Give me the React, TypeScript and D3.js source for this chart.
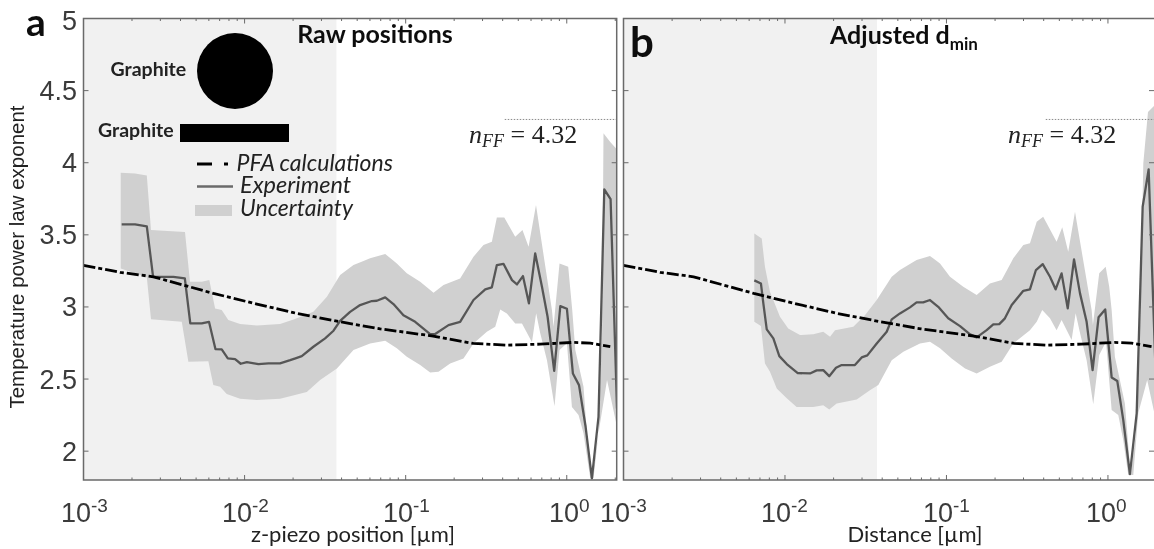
import React from "react";
import * as d3 from "d3";

// All x arrays hold log10(position in µm); y arrays hold the power-law exponent.
const yTicks = [2, 2.5, 3, 3.5, 4, 4.5, 5];
const xDecades = [-3, -2, -1, 0];
const nearFieldShadeEnd = -1.43;
const nFF = 4.3;
const nFFStart = -0.385;

const pfaX = [-3, -2.773, -2.566, -2.194, -1.924, -1.676, -1.407, -1.158, -0.829, -0.581, -0.372, -0.165, 0.04, 0.146, 0.27];
const pfaY = [3.288, 3.24, 3.209, 3.094, 3.02, 2.955, 2.897, 2.848, 2.798, 2.747, 2.735, 2.742, 2.754, 2.749, 2.724];

const rawExpX = [-2.763, -2.68, -2.607, -2.568, -2.442, -2.371, -2.337, -2.266, -2.221, -2.181, -2.142, -2.104, -2.059, -2.024, -1.986, -1.914, -1.852, -1.78, -1.717, -1.645, -1.573, -1.5, -1.448, -1.407, -1.345, -1.283, -1.21, -1.179, -1.127, -1.076, -1.014, -0.941, -0.848, -0.817, -0.734, -0.662, -0.579, -0.506, -0.465, -0.434, -0.393, -0.34, -0.309, -0.272, -0.235, -0.196, -0.154, -0.119, -0.078, -0.04, 0.001, 0.038, 0.076, 0.117, 0.156, 0.197, 0.233, 0.272, 0.312];
const rawExpY = [3.573, 3.573, 3.559, 3.209, 3.209, 3.198, 2.886, 2.886, 2.897, 2.708, 2.706, 2.643, 2.638, 2.606, 2.617, 2.604, 2.609, 2.609, 2.631, 2.659, 2.724, 2.782, 2.835, 2.904, 2.966, 3.013, 3.041, 3.043, 3.066, 3.02, 2.943, 2.897, 2.812, 2.812, 2.874, 2.897, 3.048, 3.122, 3.136, 3.29, 3.299, 3.186, 3.156, 3.214, 3.025, 3.371, 3.14, 2.932, 2.557, 3.006, 2.987, 2.539, 2.458, 2.169, 1.811, 2.238, 3.815, 3.748, 2.296];

const rawUpX = [-2.769, -2.68, -2.607, -2.581, -2.504, -2.37, -2.339, -2.266, -2.219, -2.183, -2.142, -2.101, -2.028, -1.924, -1.78, -1.676, -1.573, -1.489, -1.407, -1.324, -1.221, -1.127, -1.055, -0.993, -0.91, -0.827, -0.765, -0.662, -0.579, -0.517, -0.465, -0.434, -0.388, -0.32, -0.275, -0.237, -0.191, -0.092, -0.082, -0.045, 0.009, 0.034, 0.053, 0.104, 0.125, 0.156, 0.197, 0.219, 0.228, 0.27, 0.32];
const rawUpY = [3.93, 3.926, 3.912, 3.533, 3.528, 3.519, 3.174, 3.174, 3.186, 2.99, 2.978, 2.909, 2.881, 2.872, 2.881, 2.921, 2.966, 3.07, 3.221, 3.29, 3.337, 3.367, 3.302, 3.233, 3.174, 3.098, 3.152, 3.198, 3.348, 3.429, 3.452, 3.621, 3.621, 3.487, 3.533, 3.417, 3.706, 2.978, 2.862, 3.302, 3.278, 2.978, 2.701, 2.446, 2.125, 1.799, 2.125, 2.819, 4.204, 4.143, 4.081];
const rawLowX = [-2.769, -2.607, -2.581, -2.39, -2.349, -2.225, -2.194, -2.152, -2.111, -2.028, -1.924, -1.78, -1.614, -1.531, -1.427, -1.324, -1.221, -1.127, -1.055, -0.993, -0.91, -0.848, -0.796, -0.724, -0.641, -0.579, -0.496, -0.444, -0.413, -0.372, -0.32, -0.278, -0.216, -0.19, -0.165, -0.123, -0.076, -0.045, 0.001, 0.032, 0.073, 0.104, 0.146, 0.166, 0.197, 0.25, 0.32];
const rawLowY = [3.267, 3.205, 2.914, 2.897, 2.62, 2.624, 2.458, 2.446, 2.396, 2.363, 2.354, 2.363, 2.411, 2.493, 2.574, 2.701, 2.747, 2.765, 2.713, 2.654, 2.597, 2.546, 2.55, 2.608, 2.643, 2.747, 2.828, 2.862, 2.983, 2.955, 2.886, 2.886, 2.756, 2.957, 2.819, 2.631, 2.312, 2.701, 2.749, 2.307, 2.25, 2.125, 1.813, 1.813, 2.125, 2.493, 2.125];

const adjExpX = [-2.19, -2.149, -2.134, -2.113, -2.072, -2.035, -1.989, -1.921, -1.845, -1.804, -1.763, -1.726, -1.684, -1.649, -1.567, -1.525, -1.49, -1.432, -1.37, -1.339, -1.288, -1.226, -1.185, -1.144, -1.102, -1.051, -0.989, -0.916, -0.854, -0.813, -0.751, -0.71, -0.673, -0.638, -0.596, -0.524, -0.483, -0.446, -0.404, -0.359, -0.324, -0.287, -0.249, -0.21, -0.173, -0.132, -0.095, -0.058, -0.017, 0.023, 0.058, 0.095, 0.136, 0.178, 0.215, 0.252, 0.303];
const adjExpY = [3.184, 3.163, 3.025, 2.844, 2.782, 2.659, 2.604, 2.541, 2.539, 2.56, 2.562, 2.52, 2.578, 2.597, 2.597, 2.65, 2.664, 2.747, 2.828, 2.914, 2.955, 2.997, 3.032, 3.032, 3.048, 3.001, 2.921, 2.867, 2.81, 2.789, 2.839, 2.879, 2.881, 2.921, 3.013, 3.112, 3.122, 3.256, 3.297, 3.209, 3.122, 3.233, 2.99, 3.33, 3.094, 2.897, 2.562, 2.928, 2.983, 2.511, 2.486, 2.215, 1.841, 2.262, 3.695, 3.954, 2.298];

const adjUpX = [-2.19, -2.144, -2.124, -2.093, -2.031, -1.98, -1.907, -1.825, -1.763, -1.721, -1.69, -1.577, -1.505, -1.432, -1.339, -1.288, -1.185, -1.102, -1.04, -0.978, -0.896, -0.813, -0.731, -0.658, -0.586, -0.524, -0.483, -0.441, -0.401, -0.318, -0.283, -0.246, -0.204, -0.101, -0.093, -0.054, -0.014, 0.008, 0.023, 0.043, 0.105, 0.141, 0.173, 0.198, 0.219, 0.248, 0.285, 0.31];
const adjUpY = [3.51, 3.475, 3.278, 3.105, 2.932, 2.851, 2.805, 2.81, 2.828, 2.793, 2.839, 2.862, 2.943, 3.048, 3.209, 3.256, 3.325, 3.353, 3.302, 3.209, 3.14, 3.082, 3.163, 3.186, 3.337, 3.429, 3.441, 3.591, 3.625, 3.452, 3.552, 3.383, 3.66, 2.978, 2.874, 3.233, 3.278, 3.14, 2.978, 2.654, 2.331, 1.827, 2.125, 2.819, 3.996, 4.351, 4.393, 4.365];
const adjLowX = [-2.19, -2.149, -2.124, -2.093, -2.051, -1.989, -1.928, -1.825, -1.763, -1.726, -1.68, -1.556, -1.474, -1.422, -1.339, -1.267, -1.164, -1.102, -1.04, -0.968, -0.885, -0.813, -0.731, -0.658, -0.586, -0.483, -0.441, -0.407, -0.359, -0.318, -0.287, -0.225, -0.2, -0.173, -0.132, -0.091, -0.054, -0.012, 0.023, 0.064, 0.095, 0.126, 0.157, 0.188, 0.243, 0.31];
const adjLowY = [2.897, 2.867, 2.608, 2.55, 2.435, 2.366, 2.307, 2.307, 2.319, 2.289, 2.331, 2.359, 2.423, 2.458, 2.631, 2.689, 2.747, 2.758, 2.713, 2.643, 2.574, 2.539, 2.585, 2.62, 2.747, 2.839, 2.897, 2.978, 2.921, 2.839, 2.909, 2.77, 2.957, 2.819, 2.631, 2.326, 2.666, 2.758, 2.285, 2.25, 2.076, 1.834, 1.834, 2.264, 2.493, 2.146];

const SANS = "'Liberation Sans', Arial, sans-serif";
const LATO = "Lato, 'Open Sans', sans-serif";
const SERIF = "'Liberation Serif', serif";
const AXIS = "#6a6a6a";
const TICK_TEXT = "#3a3a3a";
const Y_TOP = 18.5;
const Y_BOTTOM = 480;
const yDomainMin = 1.8;
const yDomainMax = 5;
const xDomainMaxLog = 0.31;

const y = d3.scaleLinear().domain([yDomainMin, yDomainMax]).range([Y_BOTTOM, Y_TOP]);

type PanelProps = {
  id: string;
  left: number;
  right: number;
  rightTick: number;
  expX: number[];
  expY: number[];
  upX: number[];
  upY: number[];
  lowX: number[];
  lowY: number[];
  tickLabelX: number[];
};

function Panel({ id, left, right, rightTick, expX, expY, upX, upY, lowX, lowY, tickLabelX }: PanelProps) {
  const x = d3.scaleLog().domain([1e-3, Math.pow(10, xDomainMaxLog)]).range([left, right]);
  const px = (v: number) => x(Math.pow(10, v));
  const toPts = (xs: number[], ys: number[]) => xs.map((v, i) => [px(v), y(ys[i])] as [number, number]);
  const line = d3.line();
  const bandPts = [...toPts(upX, upY), ...toPts(lowX, lowY).reverse()];
  const allTicks = x.ticks().filter((t) => t >= 1e-3 && t <= Math.pow(10, xDomainMaxLog));
  const isMajor = (t: number) => Math.abs(Math.log10(t) - Math.round(Math.log10(t))) < 1e-6;
  return (
    <g>
      <clipPath id={id}>
        <rect x={left} y={Y_TOP} width={right - left} height={Y_BOTTOM - Y_TOP} />
      </clipPath>
      <rect x={left} y={Y_TOP} width={px(nearFieldShadeEnd) - left} height={Y_BOTTOM - Y_TOP} fill="#f1f1f1" />
      <g clipPath={`url(#${id})`}>
        <path d={line(bandPts) + "Z"} fill="#d0d0d0" />
        <path d={line(toPts(expX, expY)) ?? ""} fill="none" stroke="#575757" strokeWidth={2.3} strokeLinejoin="round" />
        <path d={line(toPts(pfaX, pfaY)) ?? ""} fill="none" stroke="#000" strokeWidth={2.8} strokeDasharray="12 3 4 3" />
      </g>
      <line x1={px(nFFStart)} x2={right} y1={y(nFF)} y2={y(nFF)} stroke="#8a8a8a" strokeWidth={1} strokeDasharray="1.5 1.5" />
      {allTicks.map((t) => {
        const len = isMajor(t) ? 5 : 2.5;
        return (
          <g key={t} stroke={AXIS} strokeWidth={1}>
            <line x1={x(t)} x2={x(t)} y1={Y_BOTTOM} y2={Y_BOTTOM - len} />
            <line x1={x(t)} x2={x(t)} y1={Y_TOP} y2={Y_TOP + len} />
          </g>
        );
      })}
      {yTicks.map((t) => (
        <g key={t} stroke={AXIS} strokeWidth={1}>
          <line x1={left} x2={left + 5} y1={y(t)} y2={y(t)} />
          <line x1={right} x2={right - rightTick} y1={y(t)} y2={y(t)} />
        </g>
      ))}
      <path
        d={`M${left},${Y_TOP}H${right}V${Y_BOTTOM}H${left}Z`}
        fill="none"
        stroke={AXIS}
        strokeWidth={1.5}
      />
      {xDecades.map((d, i) => (
        <text key={d} x={tickLabelX[i]} y={522} fontFamily={SANS} fontSize={27} fill={TICK_TEXT}>
          10
          <tspan fontSize={19} dy={-10}>
            {d}
          </tspan>
        </text>
      ))}
    </g>
  );
}

export default function App() {
  return (
    <svg
      width={1154}
      height={549}
      viewBox="0 0 1154 549"
      style={{ position: "fixed", left: 0, top: 0, background: "#fff" }}
    >
      <defs>
        <filter id="soft" x="0" y="0" width="1154" height="549" filterUnits="userSpaceOnUse">
          <feGaussianBlur stdDeviation={0.45} />
        </filter>
      </defs>
      <g filter="url(#soft)">
        <Panel
          id="clipA"
          left={83.5}
          right={616.7}
          rightTick={5}
          expX={rawExpX}
          expY={rawExpY}
          upX={rawUpX}
          upY={rawUpY}
          lowX={rawLowX}
          lowY={rawLowY}
          tickLabelX={[61, 222, 383, 549]}
        />
        <Panel
          id="clipB"
          left={623.5}
          right={1158}
          rightTick={9}
          expX={adjExpX}
          expY={adjExpY}
          upX={adjUpX}
          upY={adjUpY}
          lowX={adjLowX}
          lowY={adjLowY}
          tickLabelX={[600, 761, 923, 1086]}
        />
        {yTicks.map((t) => (
          <text
            key={t}
            x={77}
            y={t === 5 ? 30 : y(t) + 9.5}
            textAnchor="end"
            fontFamily={SANS}
            fontSize={27}
            fill={TICK_TEXT}
          >
            {t}
          </text>
        ))}

        <text
          transform="translate(24,257) rotate(-90)"
          textAnchor="middle"
          fontFamily={SANS}
          fontSize={20.5}
          fill="#222"
        >
          Temperature power law exponent
        </text>
        <text x={353} y={542} textAnchor="middle" fontFamily={LATO} fontSize={22} fill="#222">
          z-piezo position [µm]
        </text>
        <text x={915} y={542} textAnchor="middle" fontFamily={LATO} fontSize={22} fill="#222">
          Distance [µm]
        </text>

        <text x={26} y={36} fontFamily={LATO} fontWeight={700} fontSize={39} fill="#111">
          a
        </text>
        <text x={630} y={57} fontFamily={LATO} fontWeight={700} fontSize={42} fill="#111">
          b
        </text>
        <text x={375} y={43} textAnchor="middle" fontFamily={LATO} fontWeight={700} fontSize={25} fill="#111">
          Raw positions
        </text>
        <text x={830} y={44} fontFamily={LATO} fontWeight={700} fontSize={25} fill="#111">
          Adjusted d
          <tspan fontSize={17} dy={6}>
            min
          </tspan>
        </text>

        {[469, 1008].map((nx) => (
          <text key={nx} x={nx} y={143} fontFamily={SERIF} fontSize={26} fill="#222">
            <tspan fontStyle="italic">n</tspan>
            <tspan fontStyle="italic" fontSize={18} dy={4}>
              FF
            </tspan>
            <tspan dy={-4}> = 4.32</tspan>
          </text>
        ))}

        <circle cx={235} cy={71} r={38} fill="#000" />
        <rect x={180} y={124} width={109} height={18} fill="#000" />
        <text x={110.5} y={76} fontFamily={LATO} fontWeight={700} fontSize={19.5} fill="#222">
          Graphite
        </text>
        <text x={98} y={137} fontFamily={LATO} fontWeight={700} fontSize={19.5} fill="#222">
          Graphite
        </text>

        <line x1={197} x2={228} y1={164} y2={164} stroke="#000" strokeWidth={2.8} strokeDasharray="15 12 4 4" />
        <text x={236.5} y={171} fontFamily={LATO} fontStyle="italic" fontSize={23} fill="#222">
          PFA calculations
        </text>
        <line x1={197} x2={233} y1={186.5} y2={186.5} stroke="#6a6a6a" strokeWidth={2.6} />
        <text x={240} y={193} fontFamily={LATO} fontStyle="italic" fontSize={23.5} fill="#222">
          Experiment
        </text>
        <rect x={195} y={205} width={37} height={11} fill="#d0d0d0" />
        <text x={240} y={216} fontFamily={LATO} fontStyle="italic" fontSize={23} fill="#222">
          Uncertainty
        </text>
      </g>
    </svg>
  );
}
